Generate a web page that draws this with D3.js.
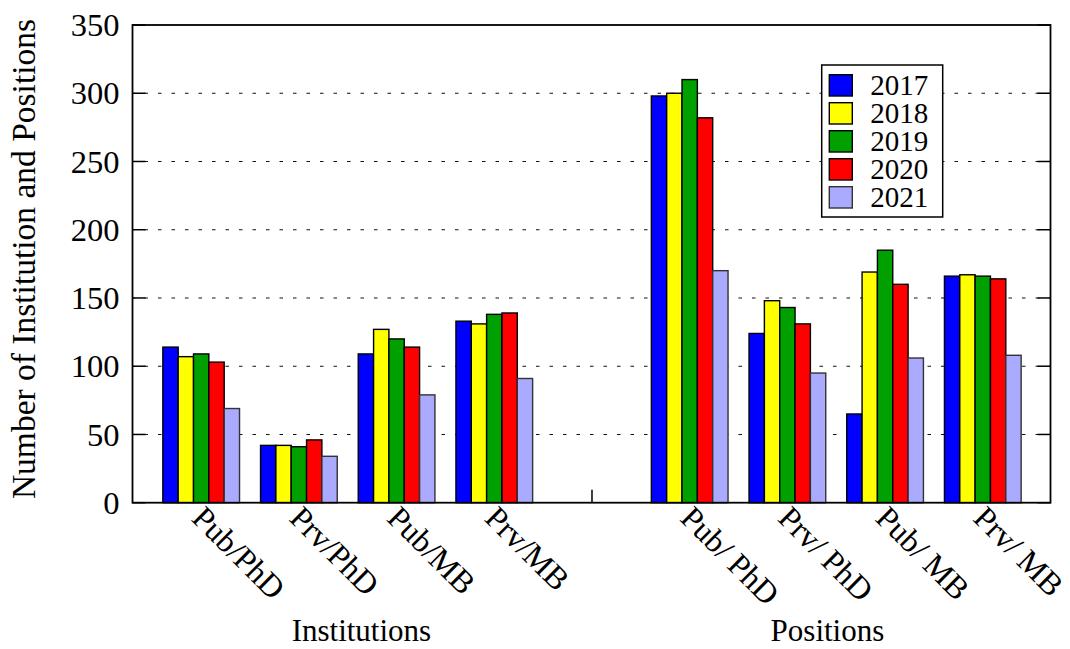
<!DOCTYPE html>
<html>
<head>
<meta charset="utf-8">
<script src="https://cdn.jsdelivr.net/npm/d3@7"></script>
<style>
  body { margin: 0; background: #fff; }
  svg { display: block; font-family: "Liberation Serif", "Times New Roman", serif; }
</style>
</head>
<body>
<div id="chart"></div>
<script>
// Data
const years = ["2017", "2018", "2019", "2020", "2021"];
const institutionCats = ["Pub/PhD", "Prv/PhD", "Pub/MB", "Prv/MB"];
const positionCats = ["Pub/ PhD", "Prv/ PhD", "Pub/ MB", "Prv/ MB"];
const institutionVals = [
    [114, 42, 109, 133],   // 2017
    [107, 42, 127, 131],   // 2018
    [109, 41, 120, 138],   // 2019
    [103, 46, 114, 139],   // 2020
    [69, 34, 79, 91]       // 2021
];
const positionVals = [
    [298, 124, 65, 166],
    [300, 148, 169, 167],
    [310, 143, 185, 166],
    [282, 131, 160, 164],
    [170, 95, 106, 108]
];
const yTicks = [0, 50, 100, 150, 200, 250, 300, 350];
const colors = ["#0000ff", "#ffff00", "#00a000", "#ff0000", "#aaaaff"];

// Dimensions
const W = 1070, H = 649;
const plot = { left: 132.5, right: 1050.5, top: 25, bottom: 502.7 };

// Slots: 4 institution clusters, one empty slot, 4 position clusters
const slots = institutionCats.concat([""], positionCats);

const svg = d3.select("#chart").append("svg")
    .attr("width", W)
    .attr("height", H);

// Scales
const x = d3.scaleLinear().domain([-0.703, 8.693]).range([plot.left, plot.right]);
const y = d3.scaleLinear().domain([0, 350]).range([plot.bottom, plot.top]);
const bw = 0.157; // bar width in slot units

// Flatten bars
const bars = [];
years.forEach((yr, k) => {
    institutionVals[k].forEach((v, i) => bars.push({ year: yr, k, slot: i, value: v }));
    positionVals[k].forEach((v, i) => bars.push({ year: yr, k, slot: i + 5, value: v }));
});

// Grid lines (dashed)
svg.append("g")
    .selectAll("line")
    .data(yTicks.filter(t => t > 0 && t < 350))
    .enter().append("line")
    .attr("x1", plot.left)
    .attr("x2", plot.right)
    .attr("y1", d => y(d))
    .attr("y2", d => y(d))
    .attr("stroke", "#111")
    .attr("stroke-width", 1.1)
    .attr("stroke-dasharray", "3.5,10")
    .attr("stroke-dashoffset", -12);

// x ticks (inward), drawn under the bars
svg.append("g")
    .selectAll("line")
    .data(slots.map((s, i) => i))
    .enter().append("line")
    .attr("x1", d => x(d))
    .attr("x2", d => x(d))
    .attr("y1", plot.bottom)
    .attr("y2", plot.bottom - 13)
    .attr("stroke", "#000")
    .attr("stroke-width", 1.5);

// y ticks (inward, both sides)
const yt = svg.append("g");
yTicks.forEach(t => {
    yt.append("line")
        .attr("x1", plot.left).attr("x2", plot.left + 13)
        .attr("y1", y(t)).attr("y2", y(t))
        .attr("stroke", "#000").attr("stroke-width", 1.5);
    yt.append("line")
        .attr("x1", plot.right).attr("x2", plot.right - 13)
        .attr("y1", y(t)).attr("y2", y(t))
        .attr("stroke", "#000").attr("stroke-width", 1.5);
});

// Bars
svg.append("g")
    .selectAll("rect")
    .data(bars)
    .enter().append("rect")
    .attr("x", d => x(d.slot + (d.k - 2.5) * bw))
    .attr("width", x(bw) - x(0))
    .attr("y", d => y(d.value))
    .attr("height", d => y(0) - y(d.value))
    .attr("fill", d => colors[d.k])
    .attr("stroke", d => d.k === 4 ? "#333" : "#000")
    .attr("stroke-width", 1.4);

// Frame
svg.append("rect")
    .attr("x", plot.left)
    .attr("y", plot.top)
    .attr("width", plot.right - plot.left)
    .attr("height", plot.bottom - plot.top)
    .attr("fill", "none")
    .attr("stroke", "#000")
    .attr("stroke-width", 1.8);

// y tick labels
svg.append("g")
    .selectAll("text")
    .data(yTicks)
    .enter().append("text")
    .attr("x", plot.left - 13)
    .attr("y", d => y(d))
    .attr("dy", "0.34em")
    .attr("text-anchor", "end")
    .style("font-size", "32.5px")
    .text(d => d);

// x tick labels, rotated
svg.append("g")
    .selectAll("text")
    .data(slots.map((s, i) => ({ s, i })).filter(d => d.s !== ""))
    .enter().append("text")
    .attr("transform", d => `translate(${x(d.i) - 11},${plot.bottom + 17}) rotate(45)`)
    .style("font-size", "32px")
    .text(d => d.s);

// group labels
svg.append("text")
    .attr("x", x(1.64))
    .attr("y", 641)
    .attr("text-anchor", "middle")
    .style("font-size", "31px")
    .text("Institutions");

svg.append("text")
    .attr("x", x(6.41))
    .attr("y", 641)
    .attr("text-anchor", "middle")
    .style("font-size", "31px")
    .text("Positions");

// y axis label
svg.append("text")
    .attr("transform", `translate(35,${(18 + 500) / 2}) rotate(-90)`)
    .attr("text-anchor", "middle")
    .style("font-size", "33.5px")
    .text("Number of Institution and Positions");

// Legend
const legend = svg.append("g").attr("transform", "translate(821.7,65)");
legend.append("rect")
    .attr("width", 121)
    .attr("height", 152)
    .attr("fill", "#fff")
    .attr("stroke", "#000")
    .attr("stroke-width", 1.5);

const items = legend.selectAll("g.item")
    .data(years)
    .enter().append("g")
    .attr("class", "item")
    .attr("transform", (d, i) => `translate(0,${9.7 + i * 28})`);

items.append("rect")
    .attr("x", 7.6)
    .attr("width", 23)
    .attr("height", 21.3)
    .attr("fill", (d, i) => colors[i])
    .attr("stroke", (d, i) => i === 4 ? "#333" : "#000")
    .attr("stroke-width", 1.4);

items.append("text")
    .attr("x", 48.5)
    .attr("y", 20.5)
    .style("font-size", "29px")
    .text(d => d);
</script>
</body>
</html>
